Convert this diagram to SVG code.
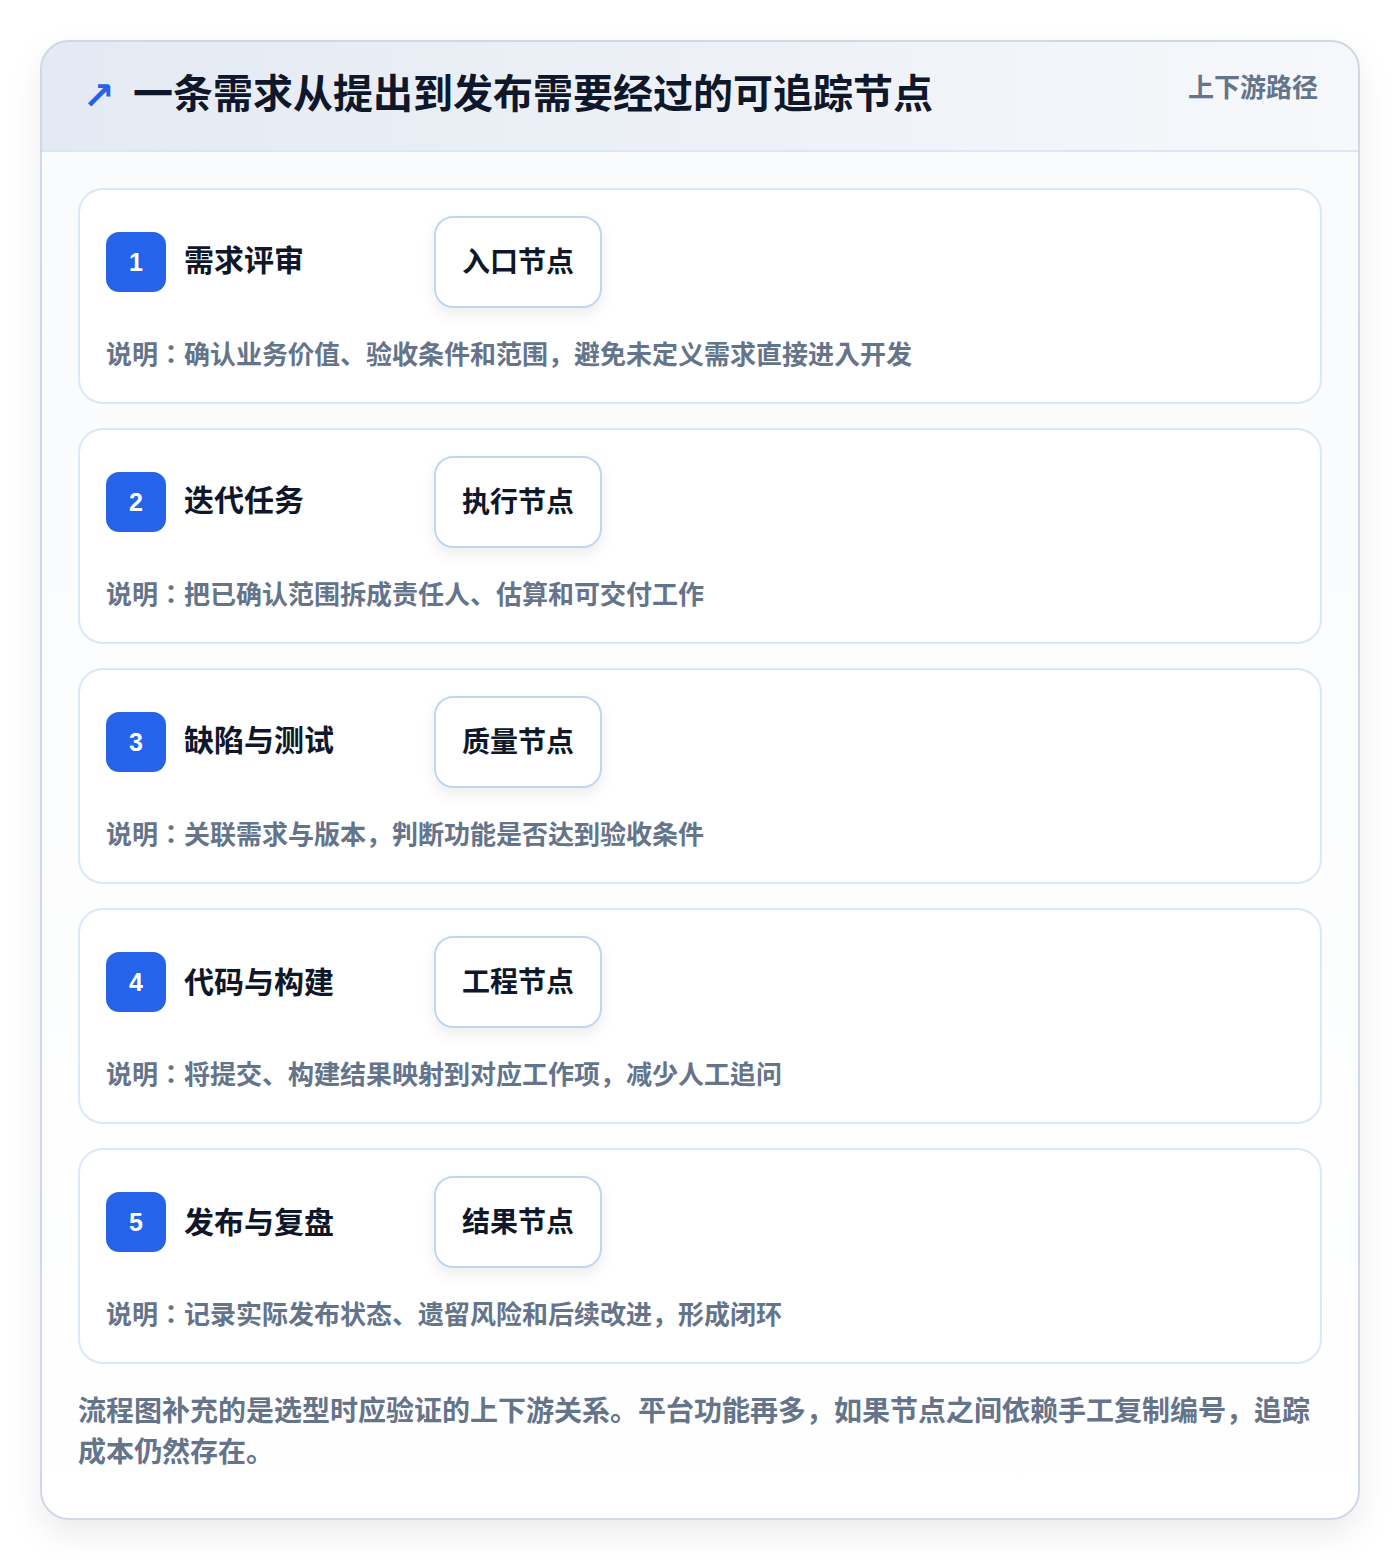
<svg xmlns="http://www.w3.org/2000/svg" width="1400" height="1560" viewBox="0 0 1400 1560">
<defs>
<linearGradient id="hdr" x1="0" y1="0" x2="1" y2="0">
<stop offset="0" stop-color="#e4eaf3"/>
<stop offset="1" stop-color="#f6f8fb"/>
</linearGradient>
<linearGradient id="body" x1="0" y1="0" x2="0" y2="1">
<stop offset="0" stop-color="#f8fafc"/>
<stop offset="1" stop-color="#ffffff"/>
</linearGradient>
<filter id="sh" x="-10%" y="-10%" width="120%" height="120%">
<feDropShadow dx="0" dy="14" stdDeviation="16" flood-color="#0f172a" flood-opacity="0.08"/>
</filter>
<filter id="tsh" x="-30%" y="-30%" width="160%" height="170%">
<feDropShadow dx="0" dy="6" stdDeviation="7" flood-color="#0f172a" flood-opacity="0.07"/>
</filter>
<clipPath id="cardclip"><rect x="41" y="41" width="1318" height="1478" rx="28"/></clipPath>
</defs>
<style>
.card{fill:#ffffff;stroke:#dbe8f7;stroke-width:2}
.badge{fill:#2563eb}
.num{font-family:"Liberation Sans","Noto Sans CJK SC",sans-serif;font-size:25px;font-weight:700;fill:#ffffff;text-anchor:middle}
.title{font-family:"Noto Sans CJK SC",sans-serif;font-size:30px;font-weight:700;fill:#0f172a}
.tag{fill:#ffffff;stroke:#bfd7f5;stroke-width:2}
.tagt{font-family:"Noto Sans CJK SC",sans-serif;font-size:28px;font-weight:600;fill:#0f172a;text-anchor:middle}
.desc{font-family:"Noto Sans CJK KR",sans-serif;font-size:26px;font-weight:600;fill:#64748b}
.foot{font-family:"Noto Sans CJK KR",sans-serif;font-size:28px;font-weight:600;fill:#64748b}
</style>
<rect width="1400" height="1560" fill="#ffffff"/>
<g id="frame">
<rect x="41" y="41" width="1318" height="1478" rx="28" fill="url(#body)" filter="url(#sh)"/>
<g clip-path="url(#cardclip)">
<rect x="41" y="41" width="1318" height="110" fill="url(#hdr)"/>
<line x1="41" y1="151" x2="1359" y2="151" stroke="#dbe7f5" stroke-width="2"/>
</g>
<rect x="41" y="41" width="1318" height="1478" rx="28" fill="none" stroke="#cfd8e4" stroke-width="2"/>
</g>
<g id="header">
<text x="83" y="109" font-family="DejaVu Sans,sans-serif" font-size="38" font-weight="700" fill="#2563eb">↗</text>
<text x="133" y="108" font-family="Noto Sans CJK SC,sans-serif" font-size="40" font-weight="700" fill="#0f172a">一条需求从提出到发布需要经过的可追踪节点</text>
<text x="1318" y="97" font-family="Noto Sans CJK SC,sans-serif" font-size="26" font-weight="600" fill="#64748b" text-anchor="end">上下游路径</text>
</g>
<g id="node1">
<rect class="card" x="79" y="189" width="1242" height="214" rx="24"/>
<rect class="badge" x="106" y="232" width="60" height="60" rx="13"/>
<text class="num" x="136" y="271">1</text>
<text class="title" x="184" y="271">需求评审</text>
<rect class="tag" x="435" y="217" width="166" height="90" rx="18" filter="url(#tsh)"/>
<text class="tagt" x="518" y="272">入口节点</text>
<text class="desc" x="106" y="364">说明：确认业务价值、验收条件和范围，避免未定义需求直接进入开发</text>
</g>
<g id="node2">
<rect class="card" x="79" y="429" width="1242" height="214" rx="24"/>
<rect class="badge" x="106" y="472" width="60" height="60" rx="13"/>
<text class="num" x="136" y="511">2</text>
<text class="title" x="184" y="511">迭代任务</text>
<rect class="tag" x="435" y="457" width="166" height="90" rx="18" filter="url(#tsh)"/>
<text class="tagt" x="518" y="512">执行节点</text>
<text class="desc" x="106" y="604">说明：把已确认范围拆成责任人、估算和可交付工作</text>
</g>
<g id="node3">
<rect class="card" x="79" y="669" width="1242" height="214" rx="24"/>
<rect class="badge" x="106" y="712" width="60" height="60" rx="13"/>
<text class="num" x="136" y="751">3</text>
<text class="title" x="184" y="751">缺陷与测试</text>
<rect class="tag" x="435" y="697" width="166" height="90" rx="18" filter="url(#tsh)"/>
<text class="tagt" x="518" y="752">质量节点</text>
<text class="desc" x="106" y="844">说明：关联需求与版本，判断功能是否达到验收条件</text>
</g>
<g id="node4">
<rect class="card" x="79" y="909" width="1242" height="214" rx="24"/>
<rect class="badge" x="106" y="952" width="60" height="60" rx="13"/>
<text class="num" x="136" y="991">4</text>
<text class="title" x="184" y="993">代码与构建</text>
<rect class="tag" x="435" y="937" width="166" height="90" rx="18" filter="url(#tsh)"/>
<text class="tagt" x="518" y="992">工程节点</text>
<text class="desc" x="106" y="1084">说明：将提交、构建结果映射到对应工作项，减少人工追问</text>
</g>
<g id="node5">
<rect class="card" x="79" y="1149" width="1242" height="214" rx="24"/>
<rect class="badge" x="106" y="1192" width="60" height="60" rx="13"/>
<text class="num" x="136" y="1231">5</text>
<text class="title" x="184" y="1233">发布与复盘</text>
<rect class="tag" x="435" y="1177" width="166" height="90" rx="18" filter="url(#tsh)"/>
<text class="tagt" x="518" y="1232">结果节点</text>
<text class="desc" x="106" y="1324">说明：记录实际发布状态、遗留风险和后续改进，形成闭环</text>
</g>
<g id="connectors"></g>
<g id="footer">
<text class="foot" x="78" y="1421">流程图补充的是选型时应验证的上下游关系。平台功能再多，如果节点之间依赖手工复制编号，追踪</text>
<text class="foot" x="78" y="1462">成本仍然存在。</text>
</g>
</svg>
